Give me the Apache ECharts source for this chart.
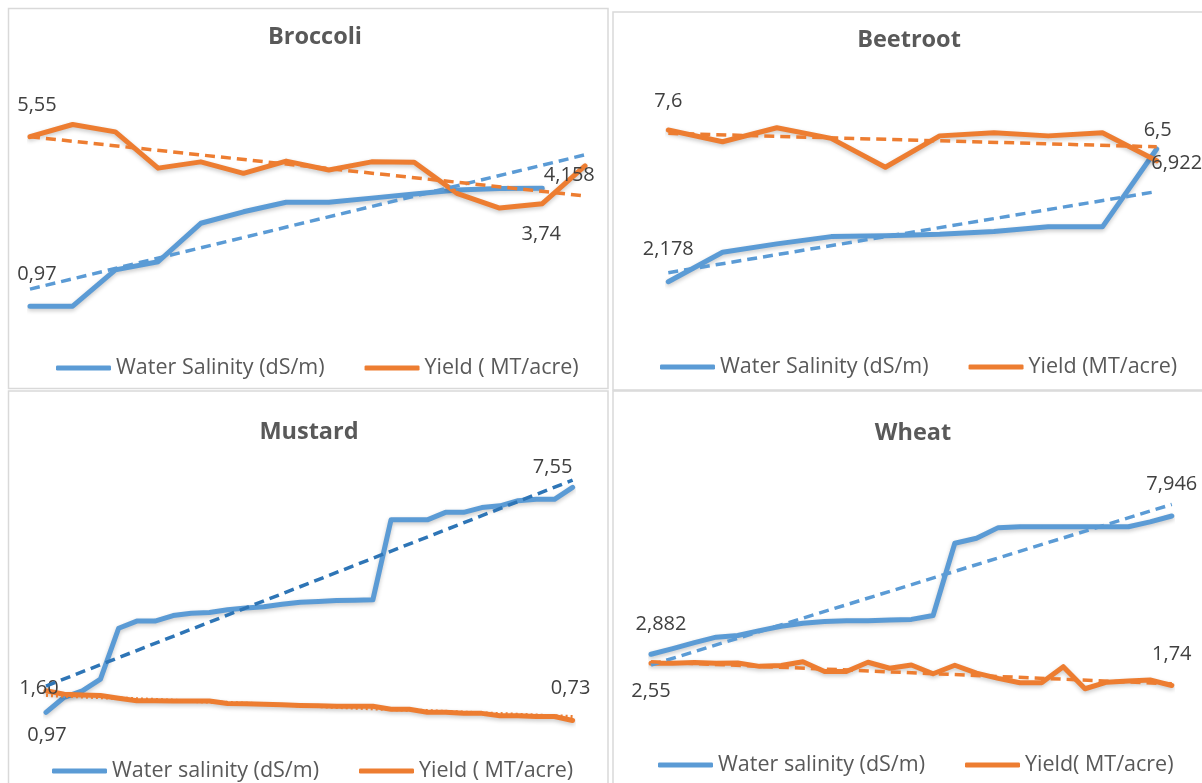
<!DOCTYPE html>
<html>
<head>
<meta charset="utf-8">
<script src="https://cdn.jsdelivr.net/npm/echarts@6/dist/echarts.min.js"></script>
<style>
  html, body { margin: 0; padding: 0; background: #fff; }
  #chart { width: 1202px; height: 783px; }
</style>
</head>
<body>
<div id="chart"></div>
<script>
const FONT = "'Open Sans', 'Liberation Sans', sans-serif";
const BLUE = '#5b9bd5';
const ORANGE = '#ed7d31';
const DARK_BLUE = '#2e75b6';

// Broccoli
const brocSalinity = [0.97, 0.97, 1.95, 2.17, 3.21, 3.52, 3.78, 3.78, 3.89, 4.00, 4.11, 4.15, 4.158, null];
const brocYield = [5.55, 5.88, 5.68, 4.70, 4.87, 4.56, 4.89, 4.65, 4.87, 4.86, 4.02, 3.62, 3.74, 4.76];
const brocSalTrend = [1.43, 5.06];
const brocYieldTrend = [5.55, 3.95];

// Beetroot
const beetSalinity = [2.178, 3.23, 3.53, 3.79, 3.82, 3.87, 3.97, 4.14, 4.14, 6.922];
const beetYield = [7.6, 7.18, 7.68, 7.30, 6.27, 7.39, 7.50, 7.39, 7.50, 6.5];
const beetSalTrend = [2.50, 5.40];
const beetYieldTrend = [7.48, 7.00];

// Mustard
const mustSalinity = [0.97, 1.41, 1.60, 1.94, 3.43, 3.64, 3.64, 3.80, 3.87, 3.89, 3.97, 4.02, 4.06, 4.13, 4.19,
  4.21, 4.24, 4.25, 4.26, 6.60, 6.60, 6.60, 6.82, 6.82, 6.96, 7.01, 7.16, 7.20, 7.20, 7.55];
const mustYield = [1.60, 1.50, 1.48, 1.46, 1.38, 1.31, 1.31, 1.30, 1.30, 1.30, 1.23, 1.22, 1.21, 1.19, 1.17,
  1.16, 1.15, 1.15, 1.15, 1.06, 1.06, 0.97, 0.97, 0.94, 0.94, 0.87, 0.87, 0.85, 0.85, 0.73];
const mustSalTrend = [1.74, 7.76];
const mustYieldTrend = [1.47, 0.84];

// Wheat
const wheatSalinity = [2.882, 3.09, 3.31, 3.51, 3.57, 3.75, 3.91, 4.02, 4.08, 4.11, 4.11, 4.14, 4.16, 4.30, 6.95,
  7.13, 7.52, 7.55, 7.55, 7.55, 7.55, 7.55, 7.55, 7.73, 7.946];
const wheatYield = [2.55, 2.55, 2.58, 2.55, 2.56, 2.44, 2.47, 2.61, 2.25, 2.25, 2.59, 2.37, 2.49, 2.17, 2.48,
  2.19, 2.00, 1.84, 1.84, 2.43, 1.62, 1.86, 1.90, 1.94, 1.74];
const wheatSalTrend = [2.49, 8.37];
const wheatYieldTrend = [2.61, 1.80];

function comma(v, digits) {
  return (digits ? v.toFixed(digits) : String(v)).replace('.', ',');
}

// offsets of the value labels, point -> label centre
function withLabels(values, offsets, digits) {
  return values.map((v, i) => {
    if (!offsets[i] || v == null) return v;
    return {
      value: v,
      label: { show: true, position: 'inside', offset: offsets[i], formatter: (p) => comma(p.value, digits) }
    };
  });
}

function line(grid, name, values, color, offsets, digits) {
  return {
    type: 'line', name, xAxisIndex: grid, yAxisIndex: grid,
    data: withLabels(values, offsets, digits),
    symbol: 'circle', symbolSize: 2, showSymbol: true, showAllSymbol: true,
    itemStyle: { color },
    lineStyle: {
      color, width: 5, cap: 'round', join: 'round',
      shadowColor: 'rgba(0,0,0,0.22)', shadowBlur: 4, shadowOffsetY: 2
    },
    label: { show: false, color: '#404040', fontSize: 20, fontFamily: FONT },
    z: 2
  };
}

function trend(grid, ends, count, color, type) {
  return {
    type: 'line', xAxisIndex: grid, yAxisIndex: grid,
    data: [[0, ends[0]], [count - 1, ends[1]]],
    symbol: 'none', silent: true,
    lineStyle: { color, width: 3.5, type, cap: 'butt' },
    z: 3
  };
}

function cats(n) {
  return Array.from({ length: n }, (_, i) => String(i + 1));
}

function legend(left, top, names) {
  return {
    left, top, itemWidth: 55, itemHeight: 5, itemGap: 40, icon: 'roundRect',
    selectedMode: false, padding: 0,
    data: names,
    textStyle: { color: '#595959', fontSize: 21.5, fontFamily: FONT }
  };
}

function title(text, left, top) {
  return {
    text, left, top, textAlign: 'center', padding: 0,
    textStyle: { color: '#595959', fontSize: 23.5, fontWeight: 'bold', fontFamily: FONT }
  };
}

function box(x, y, width, height) {
  return {
    type: 'rect', silent: true,
    shape: { x, y, width, height },
    style: { fill: 'none', stroke: '#d9d9d9', lineWidth: 1.5 }
  };
}

const chart = echarts.init(document.getElementById('chart'));

chart.setOption({
  animation: false,
  backgroundColor: '#fff',
  title: [
    title('Broccoli', 315, 25),
    title('Beetroot', 909, 28),
    title('Mustard', 309, 420),
    title('Wheat', 913, 421)
  ],
  legend: [
    legend(56, 357, ['Water Salinity (dS/m)', 'Yield ( MT/acre)']),
    legend(660, 356, ['Water Salinity (dS/m)', 'Yield (MT/acre)']),
    legend(52, 760, ['Water salinity (dS/m)', 'Yield ( MT/acre)']),
    legend(658, 754, ['Water salinity (dS/m)', 'Yield( MT/acre)'])
  ],
  graphic: [
    box(8.5, 8.5, 599.5, 380),
    box(613, 12, 600, 378),
    box(8.5, 391, 599.5, 400),
    box(613, 391, 600, 400)
  ],
  grid: [
    { left: 30, top: 83.05, width: 555, height: 259 },
    { left: 668.3, top: 62.85, width: 488.4, height: 279.8 },
    { left: 46, top: 437.8, width: 526.6, height: 307.7 },
    { left: 651, top: 459.9, width: 520.8, height: 273.1 }
  ],
  xAxis: [
    { gridIndex: 0, type: 'category', boundaryGap: false, data: cats(brocYield.length), show: false },
    { gridIndex: 1, type: 'category', boundaryGap: false, data: cats(beetYield.length), show: false },
    { gridIndex: 2, type: 'category', boundaryGap: false, data: cats(mustYield.length), show: false },
    { gridIndex: 3, type: 'category', boundaryGap: false, data: cats(wheatYield.length), show: false }
  ],
  yAxis: [
    { gridIndex: 0, type: 'value', min: 0, max: 7, show: false },
    { gridIndex: 1, type: 'value', min: 0, max: 10, show: false },
    { gridIndex: 2, type: 'value', min: 0, max: 9, show: false },
    { gridIndex: 3, type: 'value', min: 0, max: 10, show: false }
  ],
  series: [
    // Broccoli
    line(0, 'Water Salinity (dS/m)', brocSalinity, BLUE, { 0: [7, -32], 12: [27, -13] }),
    line(0, 'Yield ( MT/acre)', brocYield, ORANGE, { 0: [7, -31], 12: [-1, 31] }),
    trend(0, brocSalTrend, brocYield.length, BLUE, [10, 6]),
    trend(0, brocYieldTrend, brocYield.length, ORANGE, [10, 6]),
    // Beetroot
    line(1, 'Water Salinity (dS/m)', beetSalinity, BLUE, { 0: [0, -32], 9: [20, 14] }),
    line(1, 'Yield (MT/acre)', beetYield, ORANGE, { 0: [0, -29], 9: [1, -30] }),
    trend(1, beetSalTrend, beetYield.length, BLUE, [10, 6]),
    trend(1, beetYieldTrend, beetYield.length, ORANGE, [10, 6]),
    // Mustard
    line(2, 'Water salinity (dS/m)', mustSalinity, BLUE, { 0: [1, 23], 29: [-20, -20] }, 2),
    line(2, 'Yield ( MT/acre)', mustYield, ORANGE, { 0: [-7, -3], 29: [-2, -32] }, 2),
    trend(2, mustSalTrend, mustYield.length, DARK_BLUE, [10, 6]),
    trend(2, mustYieldTrend, mustYield.length, ORANGE, [2, 3]),
    // Wheat
    line(3, 'Water salinity (dS/m)', wheatSalinity, BLUE, { 0: [10, -30], 24: [0, -32] }),
    line(3, 'Yield( MT/acre)', wheatYield, ORANGE, { 0: [0, 28], 24: [0, -31] }),
    trend(3, wheatSalTrend, wheatYield.length, BLUE, [10, 6]),
    trend(3, wheatYieldTrend, wheatYield.length, ORANGE, [10, 6])
  ]
});
</script>
</body>
</html>
